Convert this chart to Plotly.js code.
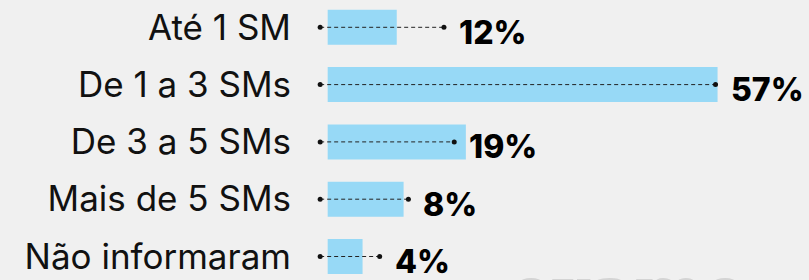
<!DOCTYPE html>
<html>
<head>
<meta charset="utf-8">
<script src="https://cdn.plot.ly/plotly-3.0.1.min.js"></script>
<style>
  html, body { margin: 0; padding: 0; background: #f0f0f0; }
  #chart { width: 809px; height: 280px; }
</style>
</head>
<body>
<div id="chart"></div>
<script>
// Categories (top to bottom)
const categories = ["Até 1 SM", "De 1 a 3 SMs", "De 3 a 5 SMs", "Mais de 5 SMs", "Não informaram"];
// Printed percentages
const percentLabels = ["12%", "57%", "19%", "8%", "4%"];
// Bar lengths as drawn in the picture (percentage units)
const barLengths = [10.1, 57, 20.2, 11.1, 5.1];
// Dotted guide: start and end positions (percentage units)
const guideStart = -1.1;
const guideEnds = [17.0, 56.7, 18.5, 11.8, 7.6];

// Build dotted guide trace with gaps between rows
const gx = [], gy = [];
categories.forEach((c, i) => {
  gx.push(guideStart, guideEnds[i], null);
  gy.push(c, c, null);
});

const traces = [
  {
    type: "bar",
    orientation: "h",
    y: categories,
    x: barLengths,
    width: 0.61,
    marker: { color: "#97d9f6" },
    hoverinfo: "skip"
  },
  {
    type: "scatter",
    mode: "lines+markers",
    x: gx,
    y: gy,
    connectgaps: false,
    cliponaxis: false,
    line: { color: "#222", width: 1, dash: "4px,3px" },
    marker: { color: "#111", size: 5 },
    hoverinfo: "skip"
  }
];

const annotations = categories.map((c, i) => ({
  x: guideEnds[i],
  y: c,
  xref: "x",
  yref: "y",
  text: percentLabels[i],
  showarrow: false,
  xanchor: "left",
  yanchor: "middle",
  xshift: 13,
  yshift: -5,
  font: { family: "Inter, Roboto, sans-serif", size: 32, color: "#000", weight: 800 }
}));

annotations.push({
  xref: "paper", yref: "paper",
  x: 0.634, y: 0,
  text: "exame",
  showarrow: false,
  xanchor: "center",
  yanchor: "middle",
  yshift: -10,
  font: { family: "DejaVu Serif, serif", size: 66, color: "#d4d4d4", weight: 700 }
});

const pxPerUnit = 6.84;
const marginL = 314;
const plotW = 809 - marginL;
const xMin = -2;
const xMax = xMin + plotW / pxPerUnit;

const pitch = 57.3;
const firstCenter = 27.3;
const yTop = -firstCenter / pitch;
const yBottom = yTop + 280 / pitch;

const layout = {
  width: 809,
  height: 280,
  paper_bgcolor: "#f0f0f0",
  plot_bgcolor: "#f0f0f0",
  margin: { l: marginL, r: 0, t: 0, b: 0, pad: 0 },
  showlegend: false,
  xaxis: {
    range: [xMin, xMax],
    showgrid: false, zeroline: false, showticklabels: false, showline: false, ticks: ""
  },
  yaxis: {
    type: "category",
    range: [yBottom, yTop],
    showgrid: false, zeroline: false, showline: false,
    ticks: "",
    ticklabelstandoff: 22,
    tickfont: { family: "Inter, Roboto, sans-serif", size: 35, color: "#111" }
  },
  annotations: annotations
};

Plotly.newPlot("chart", traces, layout, { displayModeBar: false, staticPlot: true });
</script>
</body>
</html>
